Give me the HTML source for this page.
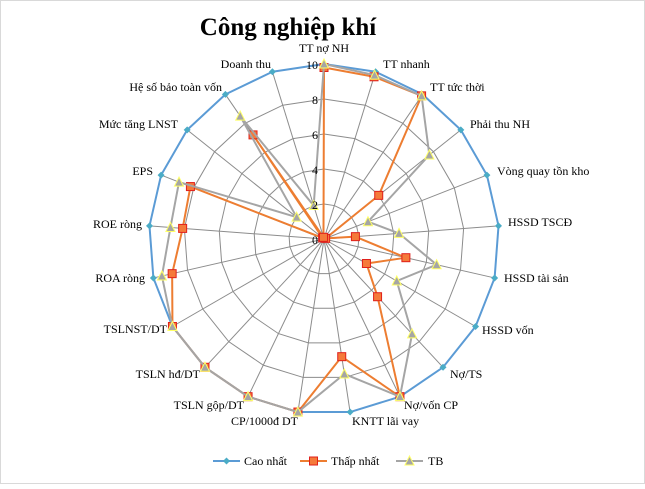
<!DOCTYPE html>
<html><head><meta charset="utf-8"><style>
body{margin:0;background:#fff}
svg text{font-family:"Liberation Serif",serif;font-size:12px;fill:#000}
</style></head><body>
<svg id="s" width="645" height="484" xmlns="http://www.w3.org/2000/svg">
<rect x="0.5" y="0.5" width="644" height="483" fill="#fff" stroke="#d9d9d9"/>
<text x="288" y="35" text-anchor="middle" style="font-size:25px;font-weight:bold">Công nghiệp khí</text>
<g id="grid"></g>
<g id="ser"></g>
<g>
<text x="324" y="52" text-anchor="middle">TT nợ NH</text>
<text x="383" y="68">TT nhanh</text>
<text x="430" y="91">TT tức thời</text>
<text x="470" y="128">Phải thu NH</text>
<text x="497" y="175">Vòng  quay tồn kho</text>
<text x="508" y="226">HSSD TSCĐ</text>
<text x="504" y="282">HSSD tài sản</text>
<text x="482" y="334">HSSD vốn</text>
<text x="450" y="378">Nợ/TS</text>
<text x="404" y="409">Nợ/vốn CP</text>
<text x="352" y="425">KNTT lãi vay</text>
<text x="298" y="425" text-anchor="end">CP/1000đ DT</text>
<text x="244" y="409" text-anchor="end">TSLN gộp/DT</text>
<text x="200" y="378" text-anchor="end">TSLN hđ/DT</text>
<text x="167" y="333" text-anchor="end">TSLNST/DT</text>
<text x="145" y="282" text-anchor="end">ROA ròng</text>
<text x="142" y="228" text-anchor="end">ROE ròng</text>
<text x="153" y="175" text-anchor="end">EPS</text>
<text x="178" y="128" text-anchor="end">Mức tăng LNST</text>
<text x="222" y="91" text-anchor="end">Hệ số bảo toàn vốn</text>
<text x="271" y="68" text-anchor="end">Doanh thu</text>
</g>
<g id="ticks"></g>
<g>
<line x1="213" y1="461" x2="240" y2="461" stroke="#5b9bd5" stroke-width="2"/>
<path d="M226.5 457.5 L230 461 L226.5 464.5 L223 461Z" fill="#4bacc6"/>
<text x="244" y="465">Cao nhất</text>
<line x1="300" y1="461" x2="327" y2="461" stroke="#ed7d31" stroke-width="2"/>
<rect x="309.5" y="457" width="8" height="8" fill="#f57a3a" stroke="#e0201b"/>
<text x="331" y="465">Thấp nhất</text>
<line x1="396" y1="461" x2="423" y2="461" stroke="#a5a5a5" stroke-width="2"/>
<path d="M409.5 456 L414 465 L405 465Z" fill="#a5a5a5" stroke="#ffff66"/>
<text x="428" y="465">TB</text>
</g>
</svg>
<script>
var cx=324,cy=239,R=175,N=21,NS="http://www.w3.org/2000/svg";
function pt(i,v){var a=i*2*Math.PI/N;return [cx+Math.sin(a)*R*v/10,cy-Math.cos(a)*R*v/10];}
function el(t,a,p){var e=document.createElementNS(NS,t);for(var k in a)e.setAttribute(k,a[k]);p.appendChild(e);return e;}
var g=document.getElementById('grid');
for(var r=2;r<=10;r+=2){var s=[];for(var i=0;i<N;i++)s.push(pt(i,r).join(','));el('polygon',{points:s.join(' '),fill:'none',stroke:'#8c8c8c','stroke-width':1},g);}
for(var i=0;i<N;i++){var p=pt(i,10);el('line',{x1:cx,y1:cy,x2:p[0],y2:p[1],stroke:'#8c8c8c','stroke-width':1},g);}
var tk=document.getElementById('ticks');
for(var v=0;v<=10;v+=2){var t=el('text',{x:318,y:cy-R*v/10+5,'text-anchor':'end'},tk);t.textContent=v;}
var hi=[],lo,tb;
for(i=0;i<N;i++)hi.push(10);
lo=[9.8,9.7,9.9,4.0,0.1,1.8,4.8,2.8,4.5,10,6.8,10,10,10,10,8.9,8.1,8.2,0.1,7.2,0.1];
tb=[10,9.8,9.9,7.7,2.7,4.3,6.6,4.8,7.4,10,7.8,10,10,10,10,9.5,8.8,8.9,2.0,8.5,2.0];
var S=document.getElementById('ser');
function series(d,col,mk){var s=[];for(var i=0;i<N;i++)s.push(pt(i,d[i]).join(','));
el('polygon',{points:s.join(' '),fill:'none',stroke:col,'stroke-width':2,'stroke-linejoin':'round'},S);
for(i=0;i<N;i++){var p=pt(i,d[i]),x=p[0],y=p[1];
if(mk=='d')el('path',{d:'M'+x+' '+(y-3.5)+'L'+(x+3.5)+' '+y+'L'+x+' '+(y+3.5)+'L'+(x-3.5)+' '+y+'Z',fill:'#4bacc6'},S);
else if(mk=='s')el('rect',{x:x-4,y:y-4,width:8,height:8,fill:'#f57a3a',stroke:'#e0201b'},S);
else el('path',{d:'M'+x+' '+(y-5)+'L'+(x+4.5)+' '+(y+4)+'L'+(x-4.5)+' '+(y+4)+'Z',fill:'#a5a5a5',stroke:'#ffff66'},S);}}
series(hi,'#5b9bd5','d');series(lo,'#ed7d31','s');series(tb,'#a5a5a5','t');
</script>
</body></html>
